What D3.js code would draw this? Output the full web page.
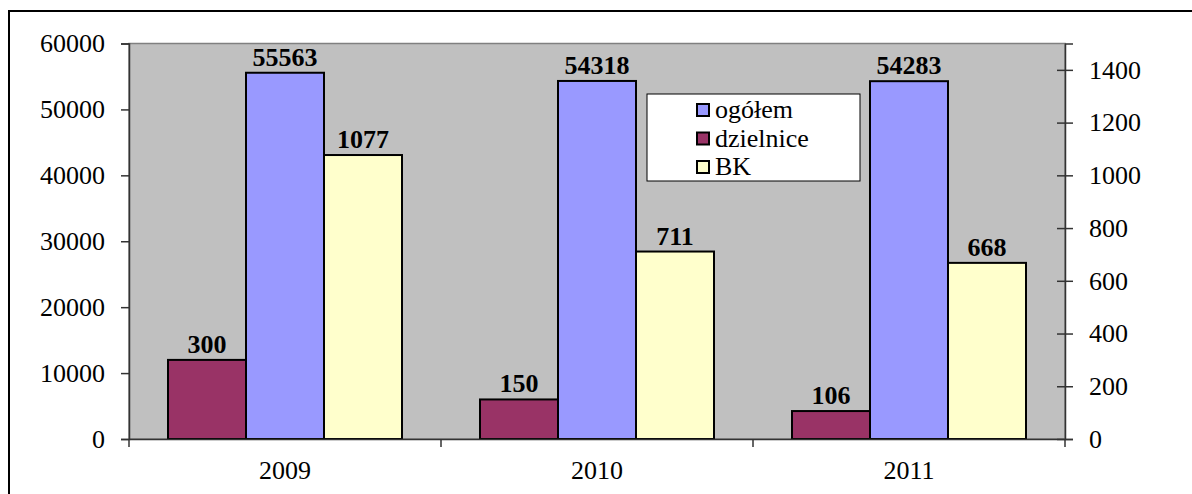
<!DOCTYPE html>
<html>
<head>
<meta charset="utf-8">
<script src="https://cdn.jsdelivr.net/npm/d3@7"></script>
<style>
  html, body { margin: 0; padding: 0; background: #fff; }
  svg { display: block; }
  svg text { font-family: "Liberation Serif", "Times New Roman", Times, serif !important; }
</style>
</head>
<body>
<svg id="chart" width="1192" height="494"></svg>
<script>
const years = ["2009", "2010", "2011"];
const seriesNames = ["dzielnice", "ogółem", "BK"];
const ogolem = [55563, 54318, 54283];
const dzielnice = [300, 150, 106];
const bk = [1077, 711, 668];
const leftTicks = [0, 10000, 20000, 30000, 40000, 50000, 60000];
const rightTicks = [0, 200, 400, 600, 800, 1000, 1200, 1400];
const legendOrder = ["ogółem", "dzielnice", "BK"];

const colors = { "ogółem": "#9999FF", "dzielnice": "#993366", "BK": "#FFFFCC" };
const axisOf = { "ogółem": "left", "dzielnice": "right", "BK": "right" };
const valuesOf = { "ogółem": ogolem, "dzielnice": dzielnice, "BK": bk };

const FONT = '"Liberation Serif", "Times New Roman", Times, serif';
const svg = d3.select("#chart");
const L = 129, R = 1065, T = 43.5, B = 439;

// outer frame
svg.append("rect").attr("x", 9).attr("y", 11).attr("width", 1200).attr("height", 500)
  .attr("fill", "none").attr("stroke", "#000").attr("stroke-width", 2);

const yL = d3.scaleLinear().domain([0, 60000]).range([B, T]);
const yR = d3.scaleLinear().domain([0, 1500]).range([B, T]);
const x = d3.scaleBand().domain(years).range([L, R]).paddingInner(0).paddingOuter(0);
const xi = d3.scaleBand().domain(seriesNames).range([0, x.bandwidth()]).paddingOuter(0.5).paddingInner(0);

// plot area
svg.append("rect").attr("x", L).attr("y", T).attr("width", R - L).attr("height", B - T)
  .attr("fill", "#C0C0C0").attr("stroke", "#808080").attr("stroke-width", 1.5);

// bars
const data = [];
years.forEach((yr, i) => {
  seriesNames.forEach(s => data.push({ year: yr, s, v: valuesOf[s][i] }));
});
const yOf = d => axisOf[d.s] === "left" ? yL(d.v) : yR(d.v);

svg.append("g").selectAll("rect").data(data).join("rect")
  .attr("x", d => x(d.year) + xi(d.s))
  .attr("y", d => yOf(d))
  .attr("width", xi.bandwidth())
  .attr("height", d => B - yOf(d))
  .attr("fill", d => colors[d.s])
  .attr("stroke", "#000").attr("stroke-width", 2);

// value labels
svg.append("g").selectAll("text").data(data).join("text")
  .attr("x", d => x(d.year) + xi(d.s) + xi.bandwidth() / 2)
  .attr("y", d => yOf(d) - 7)
  .attr("text-anchor", "middle")
  .style("font-family", FONT)
  .attr("font-size", 26).attr("font-weight", "bold")
  .text(d => d.v);

// left axis
const gL = svg.append("g").attr("transform", `translate(${L},0)`)
  .call(d3.axisLeft(yL).tickValues(leftTicks).tickSize(8).tickPadding(16).tickFormat(d3.format("d")));
gL.attr("font-family", null);
gL.select(".domain").attr("stroke", "#333").attr("stroke-width", 1.5);
gL.selectAll(".tick line").attr("stroke", "#333").attr("stroke-width", 1.5);
gL.selectAll(".tick text").attr("font-size", 26).attr("fill", "#000").style("font-family", FONT);

// right axis
const gR = svg.append("g").attr("transform", `translate(${R},0)`)
  .call(d3.axisRight(yR).tickValues(rightTicks).tickSize(8).tickPadding(16).tickFormat(d3.format("d")));
gR.attr("font-family", null);
gR.select(".domain").attr("stroke", "#333").attr("stroke-width", 1.5);
gR.selectAll(".tick line").attr("stroke", "#333").attr("stroke-width", 1.5).attr("x1", -8);
gR.selectAll(".tick text").attr("font-size", 26).attr("fill", "#000").style("font-family", FONT);

// bottom axis
const gB = svg.append("g").attr("transform", `translate(0,${B})`)
  .call(d3.axisBottom(x).tickSize(0).tickPadding(22));
gB.attr("font-family", null);
gB.select(".domain").attr("stroke", "#333").attr("stroke-width", 1.5);
gB.selectAll(".tick text").attr("font-size", 26).attr("fill", "#000").style("font-family", FONT);
// category boundary ticks
const bounds = years.map(y => x(y)).concat([R]);
svg.append("g").selectAll("line").data(bounds).join("line")
  .attr("x1", d => d).attr("x2", d => d).attr("y1", B).attr("y2", B + 8)
  .attr("stroke", "#333").attr("stroke-width", 1.5);

// legend
const lg = svg.append("g").attr("transform", "translate(647,94)");
lg.append("rect").attr("width", 213).attr("height", 87)
  .attr("fill", "#fff").attr("stroke", "#000").attr("stroke-width", 1);
legendOrder.forEach((s, i) => {
  const cy = 16 + i * 28.5;
  lg.append("rect").attr("x", 50).attr("y", cy - 6).attr("width", 12).attr("height", 12)
    .attr("fill", colors[s]).attr("stroke", "#000").attr("stroke-width", 2);
  lg.append("text").attr("x", 68).attr("y", cy + 8).attr("font-size", 26)
    .style("font-family", FONT).text(s);
});
</script>
</body>
</html>
